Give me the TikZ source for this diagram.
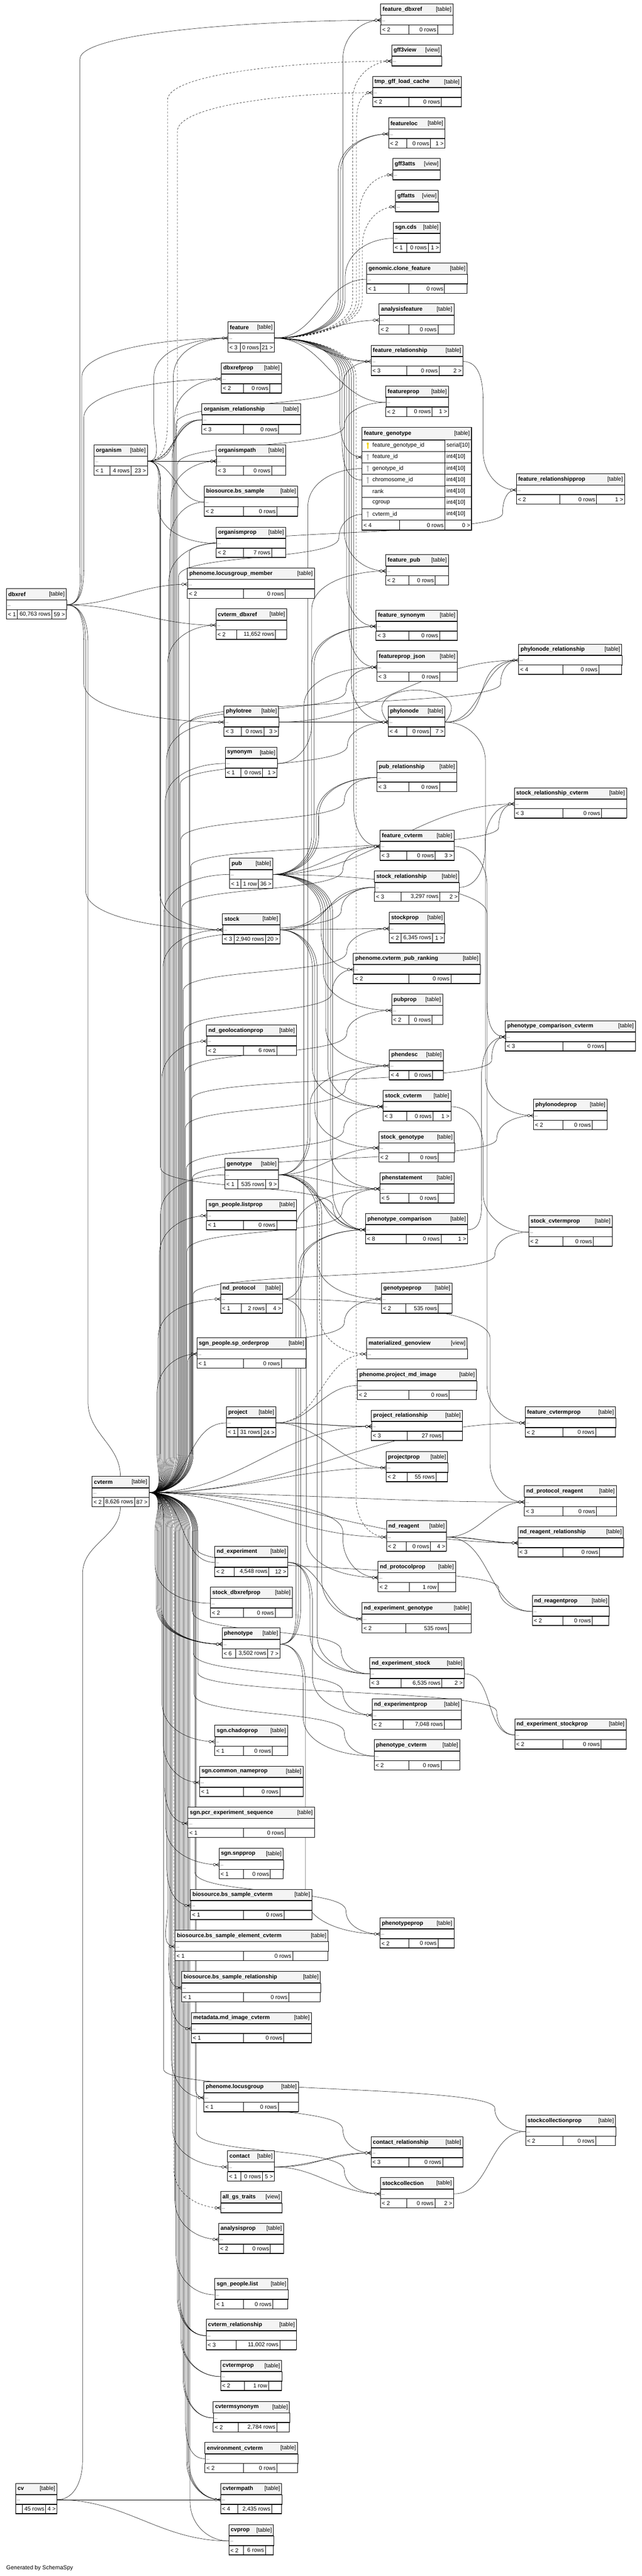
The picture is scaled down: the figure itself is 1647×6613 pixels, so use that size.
\documentclass[tikz,border=0pt]{standalone}
\usepackage{fontspec}
\setmainfont{Liberation Sans}
\usetikzlibrary{decorations.markings}
\pgfdeclarelayer{edges}
\pgfsetlayers{edges,main}
\definecolor{headc}{HTML}{F4F4F4}
\definecolor{pkc}{HTML}{F0D000}
\definecolor{fkc}{HTML}{B4B4B4}
\newcommand\crowfoot{\draw[solid,line width=0.8pt] (-8pt,0pt) -- (0pt,4.5pt) (-8pt,0pt) -- (0pt,-4.5pt) (-8pt,0pt) -- (0pt,0pt);
  \draw[solid,line width=0.8pt,fill=white] (-11.5pt,0pt) circle[radius=3.2pt];}
\tikzset{
  every node/.style={inner sep=0pt, font=\fontsize{14.6}{17}\selectfont},
  ttl/.style={font=\fontsize{14.6}{17}\selectfont\bfseries},
  dots/.style={font=\fontsize{10}{12}\selectfont},
  rowbox/.style={draw, fill=white, line width=0.8pt, minimum height=25pt},
  fk/.style={line width=0.7pt, postaction={decorate}, decoration={markings, mark=at position 1 with {\crowfoot}}},
  imp/.style={dash pattern=on 5pt off 4pt},
}
\newcommand\tbl[6]{%
  \def\tI{#1}\def\tA{#2}\def\tB{#3}\def\tC{#4}%
  \pgfmathsetmacro\tW{#4-#2}%
  \filldraw[fill=headc, line width=0.8pt] (#2,-#3) rectangle (#4,-#3-29);
  \node[ttl, anchor=west] (#1-h) at (#2+5,-#3-14.5) {#5};
  \node[anchor=east] at (#4-4,-#3-14.5) {[#6]};
  \node[rowbox, minimum width=\tW pt, anchor=north west] (#1) at (#2,-#3-29) {};
  \node[dots, anchor=west] at (#2+3,-#3-44) {...};
  \draw[line width=2pt] (#2,-#3-29) -- (#4,-#3-29) (#2,-#3-54) -- (#4,-#3-54);
  \coordinate (#1-t) at ({(#2+#4)/2},-#3);
}
\newcommand\ftr[5]{%
  \filldraw[fill=white, line width=0.8pt] (\tA,-\tB-54) rectangle (\tC,-\tB-78);
  \draw[line width=0.8pt] (#4,-\tB-54) -- (#4,-\tB-78) (#5,-\tB-54) -- (#5,-\tB-78);
  \draw[line width=2pt] (\tA,-\tB-54) -- (\tC,-\tB-54) (\tA,-\tB-78) -- (\tC,-\tB-78);
  \node[anchor=west] at (\tA+4,-\tB-66) {#1};
  \node[anchor=east] at (#5-3,-\tB-66) {#2};
  \node[anchor=east] at (\tC-3,-\tB-66) {#3};
  \coordinate (\tI-f) at ({(\tA+\tC)/2},-\tB-78);
}
\newdimen\fkP \newdimen\fkC \newdimen\fkD \newdimen\fkA \newdimen\fkB \newdimen\fkE
\newcommand\fk[4][]{%
  \pgfextracty{\fkP}{\pgfpointanchor{#2}{east}}%
  \pgfextracty{\fkC}{\pgfpointanchor{#3}{west}}%
  \fkD=\fkC \advance\fkD by -\fkP
  \ifdim\fkD>200pt
    \fkA=\fkP \advance\fkA by 100pt \fkB=\fkC \advance\fkB by -100pt
    \draw[fk,#1] (#2.east) to[out=0,in=-90,in max distance=70pt] (#4pt,\the\fkA) -- (#4pt,\the\fkB) to[out=90,in=180,out max distance=70pt] (#3.west);
  \else\ifdim\fkD<-200pt
    \fkA=\fkP \advance\fkA by -100pt \fkB=\fkC \advance\fkB by 100pt
    \draw[fk,#1] (#2.east) to[out=0,in=90,in max distance=70pt] (#4pt,\the\fkA) -- (#4pt,\the\fkB) to[out=-90,in=180,out max distance=70pt] (#3.west);
  \else
    \draw[fk,#1] (#2.east) to[out=0,in=180] (#3.west);
  \fi\fi}
\newcommand\fkk[5][]{%
  \pgfextracty{\fkP}{\pgfpointanchor{#2}{east}}%
  \pgfextracty{\fkC}{\pgfpointanchor{#3}{west}}%
  \ifdim\fkC>\fkP
    \fkA=\fkP \advance\fkA by 100pt \fkB=\fkC \advance\fkB by -160pt \fkE=\fkC \advance\fkE by -60pt
    \draw[fk,#1] (#2.east) to[out=0,in=-90,in max distance=70pt] (#4pt,\the\fkA) -- (#4pt,\the\fkB) to[out=90,in=-90,max distance=60pt] (#5pt,\the\fkE) to[out=90,in=180,out max distance=40pt] (#3.west);
  \else
    \fkA=\fkP \advance\fkA by -100pt \fkB=\fkC \advance\fkB by 160pt \fkE=\fkC \advance\fkE by 60pt
    \draw[fk,#1] (#2.east) to[out=0,in=90,in max distance=70pt] (#4pt,\the\fkA) -- (#4pt,\the\fkB) to[out=-90,in=90,max distance=60pt] (#5pt,\the\fkE) to[out=-90,in=180,out max distance=40pt] (#3.west);
  \fi}
\begin{document}
\begin{tikzpicture}[x=1pt,y=1pt]
\useasboundingbox (0,0) rectangle (1647,-6613);

\tbl{fdbx}{977}{10}{1163}{feature\_dbxref}{table}\ftr{< 2}{0 rows}{}{1049}{1123}
\tbl{gff3view}{1005}{115}{1133}{gff3view}{view}
\tbl{tmpgff}{956}{196}{1184}{tmp\_gff\_load\_cache}{table}\ftr{< 2}{0 rows}{}{1049}{1133}
\tbl{featureloc}{997}{302}{1142}{featureloc}{table}\ftr{< 2}{0 rows}{1 >}{1044}{1105}
\tbl{gff3atts}{1008}{407}{1130}{gff3atts}{view}
\tbl{gffatts}{1015}{489}{1125}{gffatts}{view}
\tbl{sgncds}{1009}{570}{1130}{sgn.cds}{table}\ftr{< 1}{0 rows}{1 >}{1044}{1099}
\tbl{clonefeat}{941}{675}{1199}{genomic.clone\_feature}{table}\ftr{< 1}{0 rows}{}{1049}{1141}
\tbl{analysisfeature}{973}{780}{1165}{analysisfeature}{table}\ftr{< 2}{0 rows}{}{1049}{1124}
\tbl{featrel}{952}{886}{1188}{feature\_relationship}{table}\ftr{< 3}{0 rows}{2 >}{1044}{1127}
\tbl{featureprop}{990}{991}{1151}{featureprop}{table}\ftr{< 2}{0 rows}{1 >}{1044}{1109}
\tbl{featpub}{990}{1424}{1151}{feature\_pub}{table}\ftr{< 2}{0 rows}{}{1049}{1117}
\tbl{featsyn}{965}{1566}{1173}{feature\_synonym}{table}\ftr{< 3}{0 rows}{}{1049}{1128}
\tbl{fpjson}{967}{1671}{1173}{featureprop\_json}{table}\ftr{< 3}{0 rows}{}{1049}{1129}
\tbl{phylonode}{996}{1812}{1142}{phylonode}{table}\ftr{< 4}{0 rows}{7 >}{1044}{1105}
\tbl{pubrel}{967}{1954}{1172}{pub\_relationship}{table}\ftr{< 3}{0 rows}{}{1049}{1128}
\tbl{featcvterm}{975}{2131}{1165}{feature\_cvterm}{table}\ftr{< 3}{0 rows}{3 >}{1044}{1117}
\tbl{stockrel}{961}{2236}{1178}{stock\_relationship}{table}\ftr{< 3}{3,297 rows}{2 >}{1029}{1129}
\tbl{stockprop}{999}{2342}{1141}{stockprop}{table}\ftr{< 2}{6,345 rows}{1 >}{1029}{1110}
\tbl{cvpubrank}{907}{2447}{1232}{phenome.cvterm\_pub\_ranking}{table}\ftr{< 2}{0 rows}{}{1049}{1157}
\tbl{pubprop}{1005}{2552}{1136}{pubprop}{table}\ftr{< 2}{0 rows}{}{1049}{1109}
\tbl{phendesc}{999}{2694}{1138}{phendesc}{table}\ftr{< 4}{0 rows}{}{1049}{1110}
\tbl{stockcvterm}{983}{2799}{1157}{stock\_cvterm}{table}\ftr{< 3}{0 rows}{1 >}{1044}{1111}
\tbl{stockgeno}{972}{2905}{1166}{stock\_genotype}{table}\ftr{< 2}{0 rows}{}{1049}{1125}
\tbl{phenstatement}{975}{3010}{1165}{phenstatement}{table}\ftr{< 5}{0 rows}{}{1049}{1124}
\tbl{phencomp}{938}{3115}{1200}{phenotype\_comparison}{table}\ftr{< 8}{0 rows}{1 >}{1043}{1132}
\tbl{genotypeprop}{979}{3293}{1160}{genotypeprop}{table}\ftr{< 2}{535 rows}{}{1041}{1125}
\tbl{matgeno}{941}{3434}{1199}{materialized\_genoview}{view}
\tbl{projmdimg}{917}{3515}{1223}{phenome.project\_md\_image}{table}\ftr{< 2}{0 rows}{}{1049}{1153}
\tbl{projrel}{953}{3620}{1187}{project\_relationship}{table}\ftr{< 3}{27 rows}{}{1045}{1137}
\tbl{projectprop}{991}{3726}{1149}{projectprop}{table}\ftr{< 2}{55 rows}{}{1045}{1119}
\tbl{ndreagent}{992}{3904}{1146}{nd\_reagent}{table}\ftr{< 2}{0 rows}{4 >}{1043}{1105}
\tbl{ndprotprop}{970}{4008}{1169}{nd\_protocolprop}{table}\ftr{< 2}{1 row}{}{1051}{1124}
\tbl{ndexpgeno}{929}{4114}{1209}{nd\_experiment\_genotype}{table}\ftr{< 2}{535 rows}{}{1041}{1151}
\tbl{ndexpstock}{949}{4255}{1191}{nd\_experiment\_stock}{table}\ftr{< 3}{6,535 rows}{2 >}{1029}{1134}
\tbl{ndexpprop}{955}{4361}{1184}{nd\_experimentprop}{table}\ftr{< 2}{7,048 rows}{}{1035}{1140}
\tbl{phencvterm}{960}{4466}{1180}{phenotype\_cvterm}{table}\ftr{< 2}{0 rows}{}{1049}{1132}
\tbl{phenprop}{975}{4923}{1165}{phenotypeprop}{table}\ftr{< 2}{0 rows}{}{1049}{1124}
\tbl{contactrel}{952}{5485}{1188}{contact\_relationship}{table}\ftr{< 3}{0 rows}{}{1049}{1136}
\tbl{stockcoll}{976}{5590}{1164}{stockcollection}{table}\ftr{< 2}{0 rows}{2 >}{1044}{1116}

\tbl{featrelprop}{1325}{1216}{1603}{feature\_relationshipprop}{table}\ftr{< 2}{0 rows}{1 >}{1437}{1531}
\tbl{phylorel}{1331}{1653}{1596}{phylonode\_relationship}{table}\ftr{< 4}{0 rows}{}{1444}{1537}
\tbl{stockrelcv}{1320}{2022}{1608}{stock\_relationship\_cvterm}{table}\ftr{< 3}{0 rows}{}{1444}{1544}
\tbl{phencompcv}{1297}{2620}{1631}{phenotype\_comparison\_cvterm}{table}\ftr{< 3}{0 rows}{}{1444}{1554}
\tbl{phylonodeprop}{1369}{2822}{1558}{phylonodeprop}{table}\ftr{< 2}{0 rows}{}{1444}{1520}
\tbl{stockcvprop}{1357}{3121}{1571}{stock\_cvtermprop}{table}\ftr{< 2}{0 rows}{}{1444}{1523}
\tbl{featcvprop}{1348}{3611}{1580}{feature\_cvtermprop}{table}\ftr{< 2}{0 rows}{}{1444}{1529}
\tbl{ndprotreag}{1346}{3814}{1582}{nd\_protocol\_reagent}{table}\ftr{< 3}{0 rows}{}{1444}{1531}
\tbl{ndreagrel}{1329}{3919}{1600}{nd\_reagent\_relationship}{table}\ftr{< 3}{0 rows}{}{1444}{1539}
\tbl{ndreagprop}{1366}{4095}{1563}{nd\_reagentprop}{table}\ftr{< 2}{0 rows}{}{1444}{1520}
\tbl{ndexpstockprop}{1321}{4412}{1607}{nd\_experiment\_stockprop}{table}\ftr{< 2}{0 rows}{}{1444}{1543}
\tbl{stockcollprop}{1349}{5430}{1580}{stockcollectionprop}{table}\ftr{< 2}{0 rows}{}{1444}{1529}

\tbl{feature}{585}{826}{704}{feature}{table}\ftr{< 3}{0 rows}{21 >}{617}{668}
\tbl{dbxrefprop}{568}{931}{722}{dbxrefprop}{table}\ftr{< 2}{0 rows}{}{624}{692}
\tbl{orgrel}{518}{1036}{771}{organism\_relationship}{table}\ftr{< 3}{0 rows}{}{624}{715}
\tbl{orgpath}{555}{1142}{733}{organismpath}{table}\ftr{< 3}{0 rows}{}{624}{697}
\tbl{bssample}{524}{1247}{764}{biosource.bs\_sample}{table}\ftr{< 2}{0 rows}{}{624}{711}
\tbl{orgprop}{555}{1353}{733}{organismprop}{table}\ftr{< 2}{7 rows}{}{624}{697}
\tbl{lgmember}{481}{1458}{807}{phenome.locusgroup\_member}{table}\ftr{< 2}{0 rows}{}{624}{732}
\tbl{cvtermdbx}{554}{1563}{736}{cvterm\_dbxref}{table}\ftr{< 2}{11,652 rows}{}{607}{707}
\tbl{phylotree}{575}{1812}{715}{phylotree}{table}\ftr{< 3}{0 rows}{3 >}{620}{677}
\tbl{synonym}{578}{1918}{711}{synonym}{table}\ftr{< 1}{0 rows}{1 >}{618}{674}
\tbl{pub}{589}{2203}{700}{pub}{table}\ftr{< 1}{1 row}{36 >}{618}{663}
\tbl{stock}{571}{2345}{718}{stock}{table}\ftr{< 3}{2,940 rows}{20 >}{601}{681}
\tbl{ndgeoprop}{530}{2631}{761}{nd\_geolocationprop}{table}\ftr{< 2}{6 rows}{}{624}{710}
\tbl{genotype}{577}{2974}{714}{genotype}{table}\ftr{< 1}{535 rows}{9 >}{610}{682}
\tbl{listprop}{530}{3079}{761}{sgn\_people.listprop}{table}\ftr{< 1}{0 rows}{}{624}{710}
\tbl{ndprotocol}{566}{3293}{725}{nd\_protocol}{table}\ftr{< 1}{2 rows}{4 >}{619}{683}
\tbl{sporderprop}{505}{3434}{785}{sgn\_people.sp\_orderprop}{table}\ftr{< 1}{0 rows}{}{624}{722}
\tbl{project}{581}{3611}{708}{project}{table}\ftr{< 1}{31 rows}{24 >}{610}{671}
\tbl{ndexp}{551}{3969}{738}{nd\_experiment}{table}\ftr{< 2}{4,548 rows}{12 >}{601}{690}
\tbl{stockdbxprop}{540}{4074}{750}{stock\_dbxrefprop}{table}\ftr{< 2}{0 rows}{}{624}{706}
\tbl{phenotype}{570}{4179}{718}{phenotype}{table}\ftr{< 6}{3,502 rows}{7 >}{605}{687}
\tbl{chadoprop}{551}{4429}{738}{sgn.chadoprop}{table}\ftr{< 1}{0 rows}{}{624}{699}
\tbl{commonnameprop}{512}{4534}{778}{sgn.common\_nameprop}{table}\ftr{< 1}{0 rows}{}{624}{718}
\tbl{pcrseq}{482}{4639}{807}{sgn.pcr\_experiment\_sequence}{table}\ftr{< 1}{0 rows}{}{624}{732}
\tbl{snpprop}{562}{4745}{727}{sgn.snpprop}{table}\ftr{< 1}{0 rows}{}{624}{694}
\tbl{bssamplecv}{489}{4850}{800}{biosource.bs\_sample\_cvterm}{table}\ftr{< 1}{0 rows}{}{624}{729}
\tbl{bselemcv}{449}{4955}{842}{biosource.bs\_sample\_element\_cvterm}{table}\ftr{< 1}{0 rows}{}{624}{751}
\tbl{bssamplerel}{466}{5061}{822}{biosource.bs\_sample\_relationship}{table}\ftr{< 1}{0 rows}{}{624}{741}
\tbl{mdimagecv}{491}{5166}{799}{metadata.md\_image\_cvterm}{table}\ftr{< 1}{0 rows}{}{624}{728}
\tbl{locusgroup}{523}{5343}{766}{phenome.locusgroup}{table}\ftr{< 1}{0 rows}{}{624}{714}
\tbl{contact}{584}{5521}{704}{contact}{table}\ftr{< 1}{0 rows}{5 >}{618}{673}
\tbl{allgstraits}{566}{5626}{723}{all\_gs\_traits}{view}
\tbl{analysisprop}{561}{5707}{728}{analysisprop}{table}\ftr{< 2}{0 rows}{}{624}{694}
\tbl{sgnlist}{551}{5849}{739}{sgn\_people.list}{table}\ftr{< 1}{0 rows}{}{624}{700}
\tbl{cvtermrel}{529}{5954}{761}{cvterm\_relationship}{table}\ftr{< 3}{11,002 rows}{}{606}{718}
\tbl{cvtermprop}{566}{6059}{723}{cvtermprop}{table}\ftr{< 2}{1 row}{}{627}{689}
\tbl{cvtermsyn}{547}{6165}{743}{cvtermsynonym}{table}\ftr{< 2}{2,784 rows}{}{611}{710}
\tbl{envcvterm}{526}{6270}{764}{environment\_cvterm}{table}\ftr{< 2}{0 rows}{}{624}{711}
\tbl{cvtermpath}{566}{6375}{723}{cvtermpath}{table}\ftr{< 4}{2,435 rows}{}{610}{697}
\tbl{cvprop}{587}{6481}{702}{cvprop}{table}\ftr{< 2}{6 rows}{}{624}{681}

\tbl{dbxref}{16}{1511}{170}{dbxref}{table}\ftr{< 1}{60,763 rows}{59 >}{44}{133}
\tbl{organism}{241}{1142}{378}{organism}{table}\ftr{< 1}{4 rows}{23 >}{282}{336}
\tbl{cvterm}{236}{3790}{382}{cvterm}{table}\ftr{< 2}{8,626 rows}{87 >}{266}{345}
\tbl{cv}{40}{6375}{146}{cv}{table}\ftr{}{45 rows}{4 >}{57}{117}

\filldraw[fill=headc, line width=0.8pt] (929,-1097) rectangle (1210,-1129);
\node[ttl, anchor=west] (featgeno-h) at (934,-1113) {feature\_genotype};
\node[anchor=east] at (1206,-1113) {[table]};
\foreach \n/\t [count=\i] in {feature\_genotype\_id/serial[10], feature\_id/int4[10], genotype\_id/int4[10], chromosome\_id/int4[10], rank/int4[10], cgroup/int4[10], cvterm\_id/int4[10]}{
  \node[rowbox, minimum width=213pt, minimum height=29.4pt, anchor=north west] (fg\i) at (929,{-1129-(\i-1)*29.4}) {};
  \draw[fill=white, line width=0.8pt] (1142,{-1129-(\i-1)*29.4}) rectangle (1210,{-1129-\i*29.4});
  \node[anchor=west] at (956,{-1143.7-(\i-1)*29.4}) {\n};
  \node[anchor=west] at (1146,{-1143.7-(\i-1)*29.4}) {\t};
}
\foreach \i/\c in {1/pkc,2/fkc,3/fkc,4/fkc,7/fkc}{
  \fill[\c] (944,{-1139-(\i-1)*29.4}) circle[radius=2.8pt];
  \fill[\c] (943,{-1140-(\i-1)*29.4}) rectangle (945,{-1152-(\i-1)*29.4});
}
\filldraw[fill=white, line width=0.8pt] (929,-1335) rectangle (1210,-1361);
\draw[line width=0.8pt] (1025,-1335) -- (1025,-1361) (1142,-1335) -- (1142,-1361);
\node[anchor=west] at (933,-1348) {< 4};
\node[anchor=east] at (1139,-1348) {0 rows};
\node[anchor=east] at (1207,-1348) {0 >};
\draw[line width=2pt] (929,-1129) -- (1210,-1129) (929,-1335) -- (1210,-1335);
\draw[line width=2.4pt] (929,-1097) rectangle (1210,-1361);

\node[anchor=west] (gen) at (16,-6593) {Generated by SchemaSpy};

\begin{pgfonlayer}{edges}
\fill[white] (0,0) rectangle (1647,-6613);

\fk{dbxref}{fdbx}{205}
\fk{dbxref}{feature}{210}
\fk{dbxref}{dbxrefprop}{215}
\fk{dbxref}{lgmember}{0}
\fk{dbxref}{cvtermdbx}{0}
\fk{dbxref}{phylotree}{215}
\fk{dbxref}{stock}{220}
\draw[fk] (dbxref.east) to[out=0,in=90,in max distance=70pt] (226,-1652) -- (226,-3600) to[out=-90,in=90] (cvterm-t);
\draw[fk] (cv.east) to[out=0,in=-90,in max distance=70pt] (212,-6316) -- (212,-4040) to[out=90,in=-90] (cvterm-f);
\draw[fk] (cv.east) to[out=0,in=180] (cvtermpath.west);
\draw[fk] (cv.east) to[out=0,in=180] (cvprop.west);

\fk[imp]{organism}{gff3view}{430}
\fk[imp]{organism}{tmpgff}{455}
\fk{organism}{feature}{395}
\fk{organism}{orgrel}{0}
\fk[looseness=1.4]{organism}{orgrel}{0}
\fk[looseness=0.8]{organism}{orgpath}{0}
\fk[looseness=1.4]{organism}{orgpath}{0}
\fk{organism}{bssample}{0}
\fk{organism}{orgprop}{405}
\fk{organism}{stock}{410}
\fkk{organism}{phencomp}{412}{855}

\fk{feature}{fdbx}{880}
\fk[imp]{feature}{gff3view}{905}
\fk[imp]{feature}{tmpgff}{915}
\fk{feature}{featureloc}{868}
\fk{feature}{featureloc}{874}
\fk[imp]{feature}{gff3atts}{922}
\fk[imp]{feature}{gffatts}{930}
\fk{feature}{sgncds}{886}
\fk{feature}{clonefeat}{892}
\fk{feature}{analysisfeature}{0}
\fk[looseness=0.8]{feature}{featrel}{0}
\fk[looseness=1.3]{feature}{featrel}{0}
\fk{feature}{featureprop}{0}
\fk{feature}{fg2}{872}
\fk{feature}{fg4}{878}
\fk{feature}{featpub}{884}
\fk{feature}{featsyn}{890}
\fk{feature}{fpjson}{896}
\fk{feature}{phylonode}{902}
\fk{feature}{featcvterm}{908}
\fk[imp]{feature}{ndreagent}{914}

\fk{cvterm}{feature}{445}
\fk{cvterm}{orgrel}{442}
\fk{cvterm}{orgpath}{439}
\fk{cvterm}{dbxrefprop}{448}
\fk{cvterm}{bssample}{436}
\fk{cvterm}{orgprop}{433}
\fk{cvterm}{cvtermdbx}{430}
\fk{cvterm}{phylotree}{427}
\fk{cvterm}{synonym}{424}
\fk{cvterm}{pub}{421}
\fk{cvterm}{stock}{418}
\fk{cvterm}{ndgeoprop}{415}
\fk{cvterm}{genotype}{412}
\fk{cvterm}{listprop}{409}
\fk{cvterm}{ndprotocol}{406}
\fk{cvterm}{sporderprop}{403}
\fk{cvterm}{project}{400}
\fkk{cvterm}{featrel}{452}{880}
\fkk{cvterm}{featureprop}{455}{884}
\fkk{cvterm}{fg7}{458}{870}
\fkk{cvterm}{fpjson}{460}{888}
\fkk{cvterm}{phylonode}{462}{892}
\fkk{cvterm}{pubrel}{464}{884}
\fkk{cvterm}{featcvterm}{466}{880}
\fkk{cvterm}{stockrel}{468}{876}
\fkk{cvterm}{stockprop}{470}{890}
\fkk{cvterm}{cvpubrank}{472}{852}
\fkk{cvterm}{pubprop}{474}{890}
\fkk{cvterm}{phendesc}{476}{886}
\fkk{cvterm}{stockcvterm}{478}{882}
\fkk{cvterm}{phenstatement}{480}{878}
\fkk{cvterm}{genotypeprop}{482}{884}
\fk{cvterm}{projrel}{0}
\fk{cvterm}{projectprop}{0}
\fkk{cvterm}{featrelprop}{486}{1290}
\fkk{cvterm}{phylorel}{488}{1285}
\fkk{cvterm}{stockrelcv}{490}{1280}
\fkk{cvterm}{phencompcv}{492}{1262}
\fkk{cvterm}{phylonodeprop}{494}{1275}
\fkk{cvterm}{stockcvprop}{496}{1270}
\fk{cvterm}{featcvprop}{0}
\fk{cvterm}{ndprotreag}{0}
\fk{cvterm}{ndreagrel}{0}
\fkk{cvterm}{ndreagprop}{506}{1280}
\fkk{cvterm}{ndexpstockprop}{508}{1275}
\fkk{cvterm}{stockcollprop}{420}{1270}
\fk{cvterm}{ndexp}{395}
\fk{cvterm}{stockdbxprop}{398}
\fk{cvterm}{phenotype}{401}
\fk{cvterm}{phenotype}{404}
\fk{cvterm}{phenotype}{407}
\fk{cvterm}{phenotype}{410}
\fk{cvterm}{phenotype}{413}
\fk{cvterm}{chadoprop}{416}
\fk{cvterm}{commonnameprop}{419}
\fk{cvterm}{pcrseq}{422}
\fk{cvterm}{snpprop}{425}
\fk{cvterm}{bssamplecv}{428}
\fk{cvterm}{bselemcv}{431}
\fk{cvterm}{bssamplerel}{434}
\fk{cvterm}{mdimagecv}{437}
\fk{cvterm}{locusgroup}{440}
\fk{cvterm}{contact}{443}
\fk[imp]{cvterm}{allgstraits}{446}
\fk{cvterm}{analysisprop}{449}
\fk{cvterm}{sgnlist}{452}
\fk{cvterm}{cvtermrel}{455}
\fk{cvterm}{cvtermrel}{458}
\fk{cvterm}{cvtermrel}{461}
\fk{cvterm}{cvtermprop}{464}
\fk{cvterm}{cvtermprop}{467}
\fk{cvterm}{cvtermsyn}{470}
\fk{cvterm}{cvtermsyn}{473}
\fk{cvterm}{envcvterm}{476}
\fk{cvterm}{cvtermpath}{479}
\fk{cvterm}{cvtermpath}{482}
\fk{cvterm}{cvtermpath}{485}
\fk{cvterm}{cvprop}{488}
\fk{cvterm}{ndreagent}{0}
\fk{cvterm}{ndprotprop}{880}
\fkk{cvterm}{ndexpstock}{494}{876}
\fkk{cvterm}{ndexpprop}{496}{880}
\fkk{cvterm}{phencvterm}{498}{884}
\fkk{cvterm}{phenprop}{500}{888}
\fkk{cvterm}{contactrel}{502}{880}
\fkk{cvterm}{stockcoll}{504}{884}

\fk{pub}{featpub}{800}
\fk{pub}{featsyn}{806}
\fk{pub}{pubrel}{812}
\fk{pub}{pubrel}{818}
\fk{pub}{featcvterm}{0}
\fk{pub}{stockrelcv}{0}
\fk{pub}{cvpubrank}{824}
\fk{pub}{pubprop}{830}
\fk{pub}{phendesc}{836}
\fk{pub}{stockcvterm}{842}
\fk{pub}{phenstatement}{848}
\fk{pub}{phencomp}{854}
\fk{pub}{phencompcv}{1250}

\fk{stock}{stockrel}{0}
\fk[looseness=1.4]{stock}{stockrel}{0}
\fk{stock}{stockprop}{0}
\fk{stock}{stockcvterm}{802}
\fk{stock}{stockgeno}{808}
\fk{stock}{ndexpstock}{814}

\fk{genotype}{fg3}{790}
\fk{genotype}{phendesc}{796}
\fk{genotype}{stockgeno}{0}
\fk{genotype}{phenstatement}{0}
\fk{genotype}{phencomp}{0}
\fk[looseness=1.4]{genotype}{phencomp}{0}
\fk{genotype}{genotypeprop}{814}
\fk[imp]{genotype}{matgeno}{820}
\fk{genotype}{ndexpgeno}{826}

\fk{phenotype}{phenstatement}{760}
\fk{phenotype}{phencomp}{766}
\fk{phenotype}{phencomp}{772}
\fk{phenotype}{phencvterm}{778}
\fk{phenotype}{phenprop}{784}

\fk{phylotree}{phylonode}{0}
\fk{phylotree}{phylorel}{0}
\fk{phylonode}{phylorel}{0}
\fk[looseness=1.4]{phylonode}{phylorel}{0}
\fk{phylonode}{phylonodeprop}{1246}
\draw[fk] (phylonode.east) .. controls +(90,110) and +(-90,110) .. (phylonode.west);
\fk{synonym}{featsyn}{800}
\fk{featrel}{featrelprop}{1240}
\fk{stockrel}{stockrelcv}{1245}
\fk{featcvterm}{featcvprop}{1250}
\fk{stockcvterm}{stockcvprop}{1240}
\fk{phencomp}{phencompcv}{1236}
\fk{ndprotocol}{fpjson}{780}
\fk{ndprotocol}{ndprotreag}{1258}
\fk{ndprotocol}{ndprotprop}{786}
\fk{project}{projmdimg}{0}
\fk[looseness=0.8]{project}{projrel}{0}
\fk[looseness=1.3]{project}{projrel}{0}
\fk{project}{projectprop}{0}
\fk[imp]{project}{matgeno}{0}
\fk{ndreagent}{ndprotreag}{0}
\fk[looseness=0.8]{ndreagent}{ndreagrel}{0}
\fk[looseness=1.3]{ndreagent}{ndreagrel}{0}
\fk{ndreagent}{ndreagprop}{0}
\fk{ndexp}{ndexpgeno}{0}
\fk{ndexp}{ndexpstock}{796}
\fk{ndexp}{ndexpprop}{802}
\fk{ndexpstock}{ndexpstockprop}{0}
\fk[looseness=0.8]{contact}{contactrel}{0}
\fk[looseness=1.3]{contact}{contactrel}{0}
\fk{contact}{stockcoll}{0}
\fk{stockcoll}{stockcollprop}{0}
\end{pgfonlayer}
\end{tikzpicture}
\end{document}
